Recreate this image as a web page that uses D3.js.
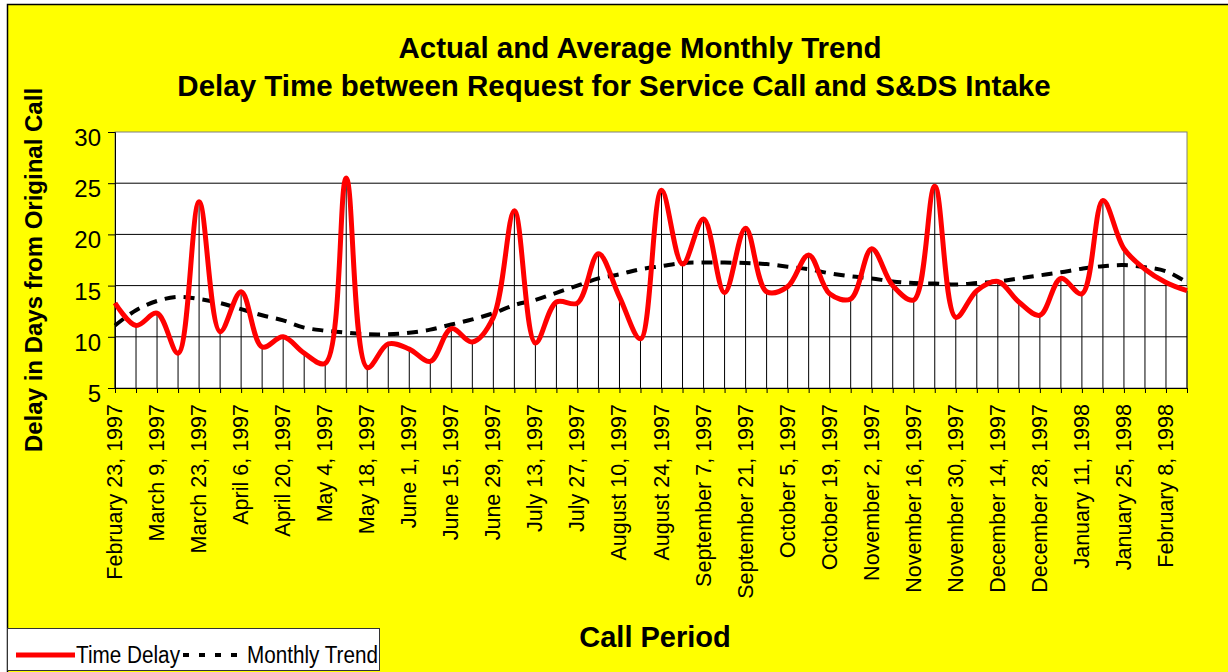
<!DOCTYPE html>
<html>
<head>
<meta charset="utf-8">
<script src="https://cdn.jsdelivr.net/npm/d3@7"></script>
<style>
  body { margin: 0; background: #ffffff; }
  svg text { font-family: Arial, "Liberation Sans", sans-serif; }
</style>
</head>
<body>
<div id="chart"></div>
<script>
// weekly call periods
var weeks = ["February 23, 1997","March 2, 1997","March 9, 1997","March 16, 1997","March 23, 1997","March 30, 1997",
  "April 6, 1997","April 13, 1997","April 20, 1997","April 27, 1997","May 4, 1997","May 11, 1997","May 18, 1997",
  "May 25, 1997","June 1, 1997","June 8, 1997","June 15, 1997","June 22, 1997","June 29, 1997","July 6, 1997",
  "July 13, 1997","July 20, 1997","July 27, 1997","August 3, 1997","August 10, 1997","August 17, 1997",
  "August 24, 1997","August 31, 1997","September 7, 1997","September 14, 1997","September 21, 1997",
  "September 28, 1997","October 5, 1997","October 12, 1997","October 19, 1997","October 26, 1997",
  "November 2, 1997","November 9, 1997","November 16, 1997","November 23, 1997","November 30, 1997",
  "December 7, 1997","December 14, 1997","December 21, 1997","December 28, 1997","January 4, 1998",
  "January 11, 1998","January 18, 1998","January 25, 1998","February 1, 1998","February 8, 1998","February 15, 1998"];

var timeDelay = [13.3,11.1,12.3,8.4,23.2,10.5,14.4,9.0,10.0,8.4,7.4,25.5,7.0,9.3,8.8,7.6,10.8,9.5,11.9,22.3,
  9.4,13.4,13.3,18.1,13.9,9.8,24.3,17.1,21.5,14.3,20.6,14.4,14.9,18.0,14.2,13.7,18.6,15.0,13.6,24.7,
  11.9,14.5,15.4,13.4,12.1,15.7,14.2,23.3,18.6,16.6,15.3,14.5];

var monthlyTrend = [11.1,12.6,13.5,13.9,13.7,13.3,12.7,12.1,11.6,10.9,10.6,10.4,10.25,10.25,10.4,10.7,11.2,11.7,
  12.3,13.1,13.6,14.3,15.0,15.7,16.1,16.6,16.9,17.2,17.25,17.25,17.2,17.1,16.85,16.6,16.2,15.9,15.7,15.4,
  15.25,15.2,15.1,15.25,15.4,15.7,16.0,16.3,16.65,16.9,17.0,16.8,16.4,15.3];

var yTicks = [5,10,15,20,25,30];

var svg = d3.select("#chart").append("svg").attr("width",1228).attr("height",672);

// chart background + border
svg.append("rect").attr("x",7.5).attr("y",4.5).attr("width",1240).attr("height",700)
    .attr("fill","#ffff00").attr("stroke","#000").attr("stroke-width",1.5);

var x = d3.scalePoint().domain(d3.range(weeks.length)).range([115,1187]);
var y = d3.scaleLinear().domain([5,30]).range([388,132]);

// plot area
svg.append("rect").attr("x",115).attr("y",132).attr("width",1187-115).attr("height",388-132)
    .attr("fill","#ffffff").attr("stroke","#808080").attr("stroke-width",1);

// gridlines
svg.selectAll(".grid").data(yTicks.slice(1,5)).enter().append("line")
    .attr("x1",115).attr("x2",1187).attr("y1",function(d){ return y(d); }).attr("y2",function(d){ return y(d); })
    .attr("stroke","#000").attr("stroke-width",1);

// drop lines
svg.selectAll(".drop").data(timeDelay).enter().append("line")
    .attr("x1",function(d,i){ return x(i); }).attr("x2",function(d,i){ return x(i); })
    .attr("y1",function(d){ return y(d); }).attr("y2",388)
    .attr("stroke","#000").attr("stroke-width",1);

// axes
var yAxis = d3.axisLeft(y).tickValues(yTicks).tickSize(7).tickFormat(d3.format("d"));
var gy = svg.append("g").attr("transform","translate(115,0)").call(yAxis);
gy.select(".domain").attr("stroke","#000");
gy.selectAll(".tick line").attr("stroke","#000");
gy.selectAll(".tick text").attr("x",-14).attr("dy","0.85em").attr("y",-7)
    .attr("font-size",24).attr("fill","#000").attr("font-family","Arial, 'Liberation Sans', sans-serif");

var xAxis = d3.axisBottom(x).tickSize(5).tickFormat("");
var gx = svg.append("g").attr("transform","translate(0,388)").call(xAxis);
gx.select(".domain").attr("stroke","#000");
gx.selectAll(".tick line").attr("stroke","#000");

svg.selectAll(".xlab").data(weeks.filter(function(d,i){ return i % 2 === 0; })).enter().append("text")
    .attr("transform",function(d,i){ return "translate(" + (x(i*2)+7) + ",404) rotate(-90)"; })
    .attr("text-anchor","end").attr("font-size",21.5).attr("fill","#000")
    .text(function(d){ return d; });

// series
var line = d3.line().x(function(d,i){ return x(i); }).y(function(d){ return y(d); })
    .curve(d3.curveCatmullRom.alpha(0.5));

svg.append("path").datum(monthlyTrend).attr("d",line).attr("fill","none")
    .attr("stroke","#000").attr("stroke-width",4).attr("stroke-dasharray","11,8");
svg.append("path").datum(timeDelay).attr("d",line).attr("fill","none")
    .attr("stroke","#ff0000").attr("stroke-width",5).attr("stroke-linejoin","round");

// titles
svg.append("text").attr("x",640).attr("y",58).attr("text-anchor","middle").attr("font-size",29.5)
    .attr("font-weight","bold").text("Actual and Average Monthly Trend");
svg.append("text").attr("x",614).attr("y",96).attr("text-anchor","middle").attr("font-size",29.5)
    .attr("font-weight","bold").text("Delay Time between Request for Service Call and S&DS Intake");
svg.append("text").attr("transform","translate(42,270) rotate(-90)").attr("text-anchor","middle")
    .attr("font-size",24).attr("font-weight","bold").text("Delay in Days from Original Call");
svg.append("text").attr("x",655).attr("y",647).attr("text-anchor","middle").attr("font-size",29)
    .attr("font-weight","bold").text("Call Period");

// legend
var leg = svg.append("g");
leg.append("rect").attr("x",7.5).attr("y",628.5).attr("width",372).attr("height",42)
    .attr("fill","#fff").attr("stroke","#333").attr("stroke-width",1);
leg.append("line").attr("x1",16).attr("x2",75).attr("y1",655).attr("y2",655)
    .attr("stroke","#ff0000").attr("stroke-width",5);
leg.append("text").attr("x",76).attr("y",663).attr("font-size",23)
    .attr("textLength",104).attr("lengthAdjust","spacingAndGlyphs").text("Time Delay");
leg.append("line").attr("x1",183).attr("x2",246).attr("y1",655).attr("y2",655)
    .attr("stroke","#000").attr("stroke-width",4).attr("stroke-dasharray","6,10");
leg.append("text").attr("x",247).attr("y",663).attr("font-size",23)
    .attr("textLength",131).attr("lengthAdjust","spacingAndGlyphs").text("Monthly Trend");
</script>
</body>
</html>
